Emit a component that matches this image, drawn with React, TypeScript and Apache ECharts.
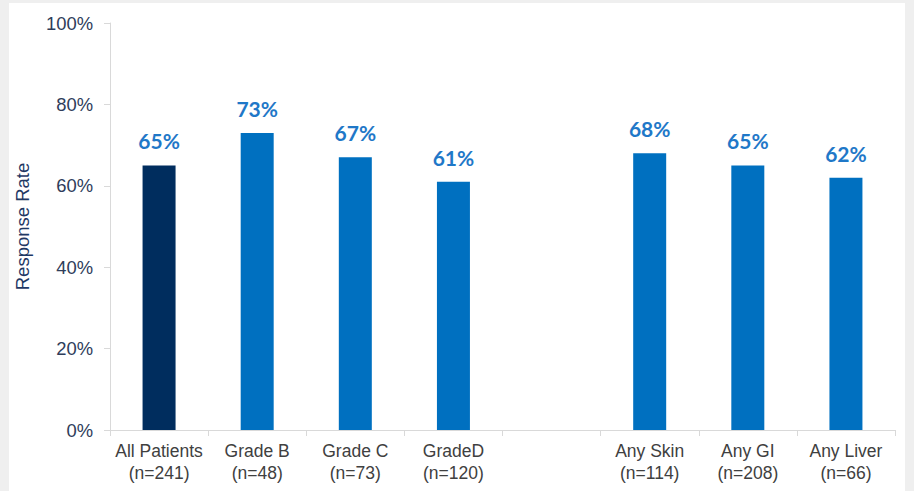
import React, { useEffect, useRef } from "react";
import * as echarts from "echarts";

const categories = [
  "All Patients\n(n=241)",
  "Grade B\n(n=48)",
  "Grade C\n(n=73)",
  "GradeD\n(n=120)",
  "",
  "Any Skin\n(n=114)",
  "Any GI\n(n=208)",
  "Any Liver\n(n=66)",
];
const responseRates: (number | null)[] = [65, 73, 67, 61, null, 68, 65, 62];
const highlightIndex = 0;
const yTicks = [0, 20, 40, 60, 80, 100];

export default function App() {
  const ref = useRef<HTMLDivElement>(null);
  useEffect(() => {
    if (!ref.current) return;
    const chart = echarts.init(ref.current, null, { renderer: "svg" });
    chart.setOption({
      animation: false,
      backgroundColor: "#EFEFEF",
      graphic: [
        {
          type: "rect",
          z: -10,
          shape: { x: 9, y: 3, width: 896, height: 500 },
          style: { fill: "#FFFFFF" },
        },
      ],
      grid: { left: 110, right: 19, top: 23, bottom: 61, containLabel: false },
      xAxis: {
        type: "category",
        data: categories,
        axisLine: { lineStyle: { color: "#D9D9D9" } },
        axisTick: { show: true, alignWithLabel: false, length: 6, lineStyle: { color: "#D9D9D9" } },
        axisLabel: {
          interval: 0,
          color: "#404040",
          fontFamily: "Liberation Sans",
          fontSize: 17.5,
          lineHeight: 22,
          margin: 10,
        },
      },
      yAxis: {
        type: "value",
        min: yTicks[0],
        max: yTicks[yTicks.length - 1],
        interval: 20,
        name: "Response Rate",
        nameLocation: "middle",
        nameGap: 78,
        nameTextStyle: { color: "#1F3864", fontFamily: "Liberation Sans", fontSize: 18.5 },
        axisLine: { show: true, lineStyle: { color: "#D9D9D9" } },
        axisTick: { show: true, length: 6, lineStyle: { color: "#D9D9D9" } },
        splitLine: { show: false },
        axisLabel: {
          formatter: "{value}%",
          color: "#2E3D5A",
          fontFamily: "Liberation Sans",
          fontSize: 18.4,
          margin: 17,
        },
      },
      series: [
        {
          type: "bar",
          barWidth: 33,
          data: responseRates.map((v, i) => ({
            value: v,
            itemStyle: { color: i === highlightIndex ? "#002D5E" : "#0070C0" },
          })),
          label: {
            show: true,
            position: "top",
            distance: 14,
            formatter: "{c}%",
            color: "#1F78C8",
            fontFamily: "Lato",
            fontWeight: "bold",
            fontSize: 21,
          },
        },
      ],
    });
    return () => chart.dispose();
  }, []);
  return (
    <div
      ref={ref}
      style={{ position: "fixed", left: 0, top: 0, width: 914, height: 491 }}
    />
  );
}
